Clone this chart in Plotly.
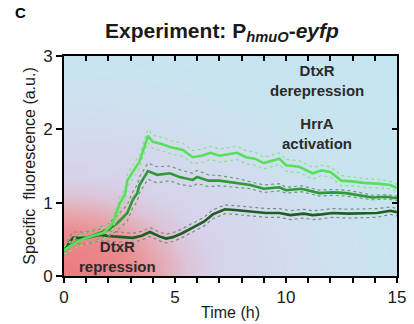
import numpy as np
import plotly.graph_objects as go

# Time course of specific fluorescence (a.u.) for three conditions
t_light = [0, 0.6, 1.0, 1.5, 1.8, 2.2, 2.5, 2.75, 2.85, 3.1, 3.4, 3.78, 4.0, 4.4, 4.77, 5.2, 5.36, 5.8,
           6.2, 6.6, 7.0, 7.4, 7.8, 8.2, 8.6, 9.0, 9.35, 9.7, 10.0, 10.6, 11.2, 11.6, 12.0, 12.5, 13.0,
           13.5, 14.1, 14.7, 15.0]
y_light = [0.35, 0.47, 0.52, 0.56, 0.59, 0.72, 0.98, 1.12, 1.30, 1.42, 1.56, 1.91, 1.83, 1.80, 1.76, 1.73,
           1.72, 1.62, 1.64, 1.68, 1.64, 1.66, 1.68, 1.62, 1.60, 1.54, 1.57, 1.60, 1.51, 1.49, 1.40, 1.44,
           1.42, 1.30, 1.29, 1.27, 1.26, 1.24, 1.20]
sd_light = [0.05, 0.07, 0.08, 0.08, 0.08, 0.08, 0.09, 0.09, 0.09, 0.09, 0.09, 0.09, 0.09, 0.09, 0.09,
            0.09, 0.09, 0.09, 0.09, 0.09, 0.09, 0.09, 0.09, 0.09, 0.09, 0.08, 0.08, 0.08, 0.08, 0.08,
            0.08, 0.07, 0.07, 0.07, 0.06, 0.06, 0.06, 0.05, 0.05]

t_mid = [0, 0.6, 1.0, 1.6, 2.0, 2.4, 2.85, 3.1, 3.3, 3.4, 3.78, 4.2, 4.77, 5.2, 5.8, 6.0, 6.5, 7.0, 7.8,
         8.4, 9.0, 9.7, 10.0, 10.7, 11.5, 12.1, 12.7, 13.3, 13.9, 14.5, 15.0]
y_mid = [0.35, 0.48, 0.52, 0.58, 0.63, 0.72, 0.86, 1.04, 1.13, 1.24, 1.43, 1.38, 1.40, 1.35, 1.31, 1.35,
         1.30, 1.30, 1.27, 1.24, 1.19, 1.21, 1.17, 1.19, 1.13, 1.14, 1.13, 1.10, 1.07, 1.08, 1.06]
sd_mid = [0.05, 0.07, 0.08, 0.08, 0.09, 0.10, 0.11, 0.11, 0.11, 0.11, 0.11, 0.11, 0.10, 0.10, 0.09,
          0.09, 0.08, 0.07, 0.06, 0.05, 0.05, 0.05, 0.04, 0.04, 0.04, 0.04, 0.04, 0.04, 0.03, 0.03, 0.03]

t_dark = [0, 0.4, 1.0, 1.6, 2.2, 3.1, 3.5, 3.87, 4.3, 4.6, 4.9, 5.3, 5.8, 6.3, 6.7, 7.25, 7.7, 8.1,
          8.6, 9.1, 9.7, 10.2, 10.8, 11.2, 11.6, 12.1, 12.8, 13.5, 14.1, 14.7, 15.0]
y_dark = [0.35, 0.52, 0.52, 0.56, 0.54, 0.52, 0.55, 0.60, 0.54, 0.51, 0.53, 0.58, 0.66, 0.74, 0.84, 0.91,
          0.90, 0.89, 0.88, 0.86, 0.86, 0.83, 0.85, 0.83, 0.84, 0.86, 0.85, 0.86, 0.86, 0.89, 0.87]
sd_dark = [0.05, 0.08, 0.08, 0.08, 0.07, 0.06, 0.06, 0.06, 0.06, 0.06, 0.06, 0.06, 0.06, 0.06, 0.06,
           0.06, 0.06, 0.06, 0.06, 0.06, 0.06, 0.06, 0.06, 0.06, 0.06, 0.06, 0.06, 0.06, 0.06, 0.05, 0.05]

x_ticks = [0, 5, 10, 15]
y_ticks = [0, 1, 2, 3]

FONT = "Liberation Sans, Arial, sans-serif"

fig = go.Figure()

# Shaded background: radial blend out from the lower-left corner
gx = np.linspace(0, 15, 151)
gy = np.linspace(0, 3, 61)
GX, GY = np.meshgrid(gx, gy)
R = np.sqrt((GX / 15) ** 2 + (GY / 3) ** 2)
fig.add_trace(go.Heatmap(
    x=gx, y=gy, z=R, zmin=0, zmax=1.42, zsmooth="best", showscale=False, hoverinfo="skip",
    colorscale=[
        [0.0, "#e97b7e"], [0.14, "#eb8a8d"], [0.20, "#e6a6ae"], [0.26, "#dcc4d6"],
        [0.32, "#d6d2ea"], [0.48, "#d2dcee"], [0.66, "#c9e3ef"], [1.0, "#c3e6f0"],
    ],
))

def add_series(t, y, sd, color, band_color):
    upper = [a + b for a, b in zip(y, sd)]
    lower = [a - b for a, b in zip(y, sd)]
    for band in (upper, lower):
        fig.add_trace(go.Scatter(x=t, y=band, mode="lines", hoverinfo="skip",
                                 line=dict(color=band_color, width=1.2, dash="dot")))
    fig.add_trace(go.Scatter(x=t, y=y, mode="lines", line=dict(color=color, width=2.6)))

add_series(t_dark, y_dark, sd_dark, "#1d5e22", "#7a8a7e")
add_series(t_mid, y_mid, sd_mid, "#2f9a35", "#6f9a72")
add_series(t_light, y_light, sd_light, "#58e05a", "#8ee08e")

axis_common = dict(showline=True, linecolor="black", linewidth=2, showgrid=False, zeroline=False,
                   tickcolor="black", tickwidth=2, automargin=False)

fig.update_layout(
    width=414, height=324,
    margin=dict(l=64, r=17, t=56, b=48),
    paper_bgcolor="white", plot_bgcolor="white",
    showlegend=False,
    font=dict(family=FONT, color="#1a1a1a"),
    xaxis=dict(range=[0, 15], tickvals=list(range(16)),
               ticktext=[str(v) if v in x_ticks else "" for v in range(16)],
               ticks="outside", ticklen=5, tickfont=dict(size=17),
               title=dict(text="Time (h)", font=dict(size=16), standoff=0), **axis_common),
    yaxis=dict(range=[0, 3], tickvals=y_ticks, ticks="outside", ticklen=6,
               tickfont=dict(size=17),
               title=dict(text="Specific  fluorescence (a.u.)", font=dict(size=16), standoff=4),
               **axis_common),
    xaxis2=dict(range=[0, 15], overlaying="x", side="top", tickvals=list(range(16)),
                ticks="inside", ticklen=5, showticklabels=False, **axis_common),
    yaxis2=dict(range=[0, 3], overlaying="y", side="right", tickvals=y_ticks,
                ticks="inside", ticklen=5, showticklabels=False, **axis_common),
)

# Invisible trace to bring the mirrored axes into the layout
fig.add_trace(go.Scatter(x=[0], y=[0], xaxis="x2", yaxis="y2", mode="markers",
                         marker=dict(opacity=0), hoverinfo="skip"))

ann_font = dict(family=FONT, size=15, color="#2b2b2b")
fig.add_annotation(x=-0.132, y=1.2, xref="paper", yref="paper", showarrow=False,
                   xanchor="center", yanchor="middle",
                   text="<b>C</b>", font=dict(family=FONT, size=15, color="black"))
fig.add_annotation(x=0.475, y=1.11, xref="paper", yref="paper", showarrow=False,
                   xanchor="center", yanchor="middle",
                   text="<b>Experiment: P<sub><i>hmuO</i></sub>-<i>eyfp</i></b>",
                   font=dict(family=FONT, size=21, color="#1a1a1a"))
fig.add_annotation(x=11.4, y=2.66, showarrow=False, text="<b>DtxR<br>derepression</b>",
                   font=ann_font, align="center")
fig.add_annotation(x=11.4, y=1.95, showarrow=False, text="<b>HrrA<br>activation</b>",
                   font=ann_font, align="center")
fig.add_annotation(x=2.4, y=0.26, showarrow=False, text="<b>DtxR<br>repression</b>",
                   font=ann_font, align="center")

fig.write_html("out.html")
